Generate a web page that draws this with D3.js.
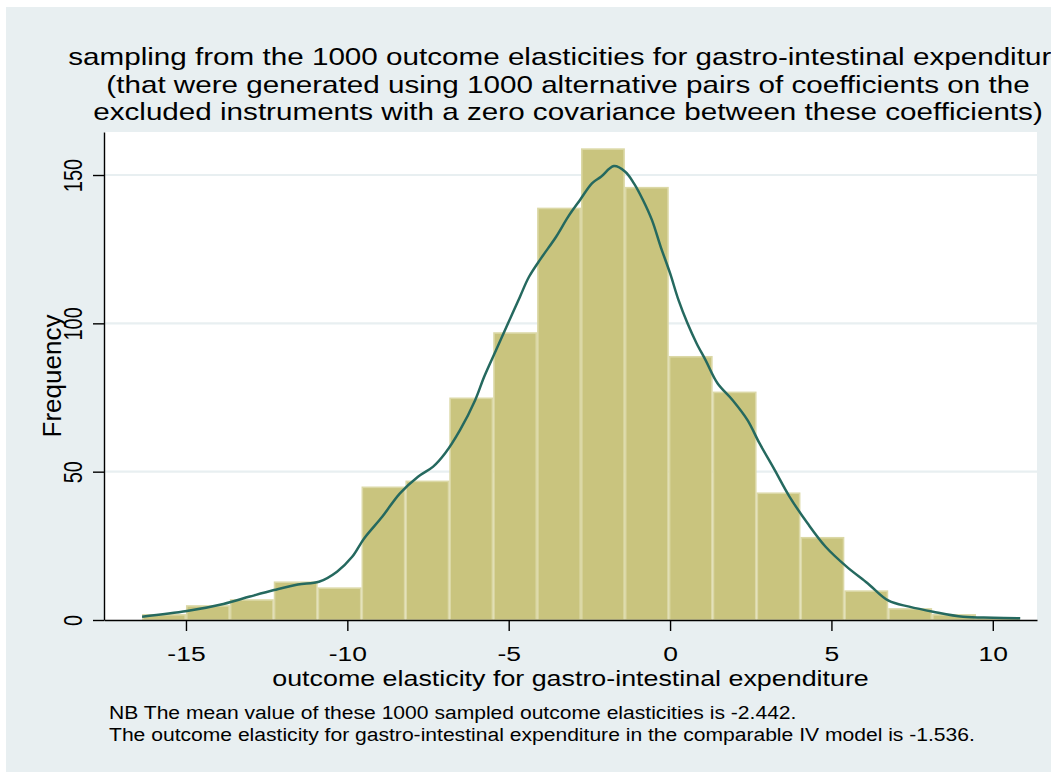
<!DOCTYPE html>
<html>
<head>
<meta charset="utf-8">
<script src="https://cdn.jsdelivr.net/npm/d3@7"></script>
<style>
  html, body { margin: 0; padding: 0; background: #ffffff; }
  svg { display: block; }
  text { font-family: "Liberation Sans", Arial, Helvetica, sans-serif; fill: #000; }
</style>
</head>
<body>
<svg id="chart" width="1051" height="772"></svg>
<script>
// Histogram of 1000 sampled outcome elasticities with a kernel density overlay

const binEdges = [-16.36, -15.00, -13.64, -12.28, -10.92, -9.56, -8.20, -6.84, -5.48, -4.12,
                  -2.76, -1.40, -0.04, 1.32, 2.68, 4.04, 5.40, 6.76, 8.12, 9.48, 10.84];
const binCounts = [2, 5, 7, 13, 11, 45, 47, 75, 97, 139, 159, 146, 89, 77, 43, 28, 10, 4, 2, 1];

// kernel density, expressed on the frequency scale
const kdeX = [-16.36, -14.97, -13.84, -13.02, -12.27, -11.53, -10.88, -10.32, -9.85, -9.48,
              -8.92, -8.37, -7.81, -7.34, -6.97, -6.51, -6.04, -5.76, -5.39, -5.02,
              -4.65, -4.37, -4.00, -3.53, -3.16, -2.79, -2.42, -2.14, -1.74, -1.39,
              -1.12, -0.84, -0.56, -0.29, 0.00, 0.26, 0.54, 0.82, 1.10, 1.47,
              1.94, 2.40, 2.77, 3.24, 3.70, 4.26, 4.82, 5.47, 6.12, 6.77,
              7.41, 8.15, 9.08, 10.01, 10.85];
const kdeY = [1.1, 3.0, 5.4, 7.9, 10.1, 12.0, 12.9, 16.3, 21.3, 27.5,
              34.8, 42.7, 48.3, 51.7, 56.2, 64.0, 74.1, 82.0, 91.0, 100.0,
              109.0, 115.7, 121.9, 129.2, 135.9, 141.6, 147.2, 149.4, 153.0, 151.1,
              147.2, 141.6, 134.8, 125.8, 116.9, 107.9, 100.0, 93.3, 87.6, 79.8,
              74.1, 67.4, 59.6, 50.6, 41.6, 32.6, 24.7, 18.0, 12.4, 6.5,
              4.5, 2.8, 1.1, 0.8, 0.6];

const xTicks = [-15, -10, -5, 0, 5, 10];
const yTicks = [0, 50, 100, 150];
const gridValues = [50, 100, 150];

const titleLines = [
  "sampling from the 1000 outcome elasticities for gastro-intestinal expenditure",
  "(that were generated using 1000 alternative pairs of coefficients on the",
  "excluded instruments with a zero covariance between these coefficients)"
];
const xTitle = "outcome elasticity for gastro-intestinal expenditure";
const yTitle = "Frequency";
const noteLines = [
  "NB The mean value of these 1000 sampled outcome elasticities is -2.442.",
  "The outcome elasticity for gastro-intestinal expenditure in the comparable IV model is -1.536."
];

// ---- layout ----
const plot = { left: 104, right: 1037, top: 132, bottom: 620 };
const STRETCH = 1.26; // horizontal glyph stretch of the lettering

const colors = {
  background: "#e8eff1",
  grid: "#e8eff1",
  barFill: "#c9c47e",
  barStroke: "#dbd8a6",
  kde: "#25695f",
  axis: "#000000"
};

const svg = d3.select("#chart");

svg.append("rect")
  .attr("x", 6).attr("y", 7).attr("width", 1051 - 6).attr("height", 772 - 7)
  .attr("fill", colors.background);

svg.append("rect")
  .attr("x", plot.left).attr("y", plot.top)
  .attr("width", plot.right - plot.left).attr("height", plot.bottom - plot.top)
  .attr("fill", "#ffffff");

const x = d3.scaleLinear().domain([-17.54, 11.37]).range([plot.left, plot.right]);
const y = d3.scaleLinear().domain([0, 164.5]).range([plot.bottom, plot.top]);

// horizontal grid lines
svg.append("g").selectAll("line")
  .data(gridValues)
  .join("line")
  .attr("x1", plot.left).attr("x2", plot.right)
  .attr("y1", d => y(d)).attr("y2", d => y(d))
  .attr("stroke", colors.grid).attr("stroke-width", 2.2);

// histogram bars
const bins = binCounts.map((c, i) => ({ x0: binEdges[i], x1: binEdges[i + 1], count: c }));
svg.append("g").selectAll("rect")
  .data(bins)
  .join("rect")
  .attr("x", d => x(d.x0) + 0.8)
  .attr("width", d => x(d.x1) - x(d.x0) - 1.6)
  .attr("y", d => y(d.count) + 0.8)
  .attr("height", d => Math.max(0, y(0) - y(d.count) - 0.8))
  .attr("fill", colors.barFill)
  .attr("stroke", colors.barStroke)
  .attr("stroke-width", 1.6);

// kernel density curve
const kdePoints = kdeX.map((v, i) => [v, kdeY[i]]);
svg.append("path")
  .datum(kdePoints)
  .attr("d", d3.line().x(d => x(d[0])).y(d => y(d[1])).curve(d3.curveCatmullRom.alpha(0.5)))
  .attr("fill", "none")
  .attr("stroke", colors.kde)
  .attr("stroke-width", 2.5)
  .attr("stroke-linejoin", "round");

// axes
const xAxis = svg.append("g")
  .attr("transform", `translate(0,${plot.bottom})`)
  .call(d3.axisBottom(x).tickValues(xTicks).tickSize(11).tickSizeOuter(0).tickFormat(d3.format("d")));
xAxis.select(".domain").attr("stroke", colors.axis).attr("stroke-width", 1.4);
xAxis.selectAll(".tick line").attr("stroke", colors.axis).attr("stroke-width", 1.4);
xAxis.selectAll(".tick text")
  .attr("y", 0).attr("dy", null)
  .attr("transform", `translate(0,41) scale(${STRETCH},1)`)
  .attr("font-size", 21)
  .attr("fill", "#000")
  .attr("text-anchor", "middle")
  .text(d => d < 0 ? "-" + Math.abs(d) : String(d));

const yAxis = svg.append("g")
  .attr("transform", `translate(${plot.left},0)`)
  .call(d3.axisLeft(y).tickValues(yTicks).tickSize(11).tickSizeOuter(0).tickFormat(d3.format("d")));
yAxis.select(".domain").attr("stroke", colors.axis).attr("stroke-width", 1.4);
yAxis.selectAll(".tick line").attr("stroke", colors.axis).attr("stroke-width", 1.4);
yAxis.selectAll(".tick text")
  .attr("x", 0).attr("dy", null)
  .attr("transform", `translate(-22,0) scale(${STRETCH},1) rotate(-90)`)
  .attr("font-size", 20)
  .attr("fill", "#000")
  .attr("text-anchor", "middle");

// text helper: stretched lettering anchored at (px, py)
function label(str, px, py, size, anchor, rotate, sx) {
  const s = sx === undefined ? STRETCH : sx;
  return svg.append("text")
    .attr("transform", `translate(${px},${py}) scale(${s},1)` + (rotate ? " rotate(-90)" : ""))
    .attr("font-size", size)
    .attr("text-anchor", anchor)
    .text(str);
}

// title
const titleX = 568;
titleLines.forEach((t, i) => label(t, titleX, 65 + i * 27.5, 24, "middle", false, 1.235));

// axis titles
label(xTitle, (plot.left + plot.right) / 2, 686, 21.3, "middle", false);
label(yTitle, 61, (plot.top + plot.bottom) / 2, 26, "middle", true, 1.0);

// note
noteLines.forEach((t, i) => label(t, 109, 719 + i * 22, 19, "start", false, 1.11));
</script>
</body>
</html>
